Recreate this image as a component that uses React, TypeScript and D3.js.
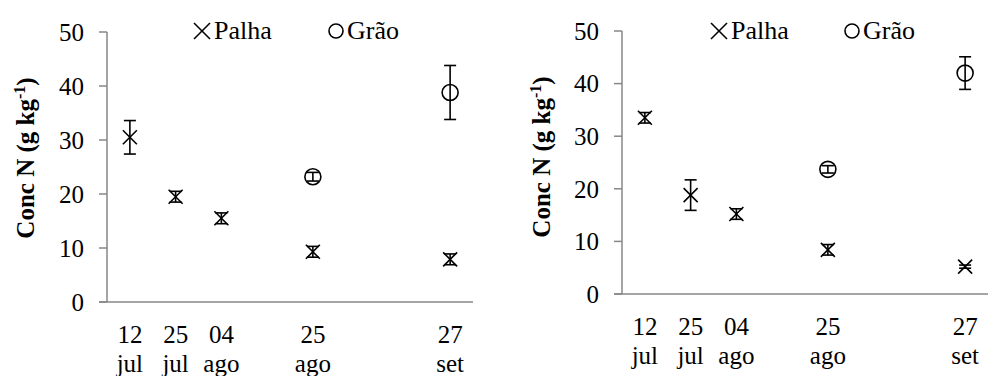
import React from 'react';
import * as d3 from 'd3';

const datePos = [0.5, 1.5, 2.5, 4.5, 7.5];
const dayLabels = ['12', '25', '04', '25', '27'];
const monthLabels = ['jul', 'jul', 'ago', 'ago', 'set'];
const yTicks = [0, 10, 20, 30, 40, 50];

const palhaA = [30.5, 19.5, 15.5, 9.3, 7.9];
const palhaAErr = [3.1, 1.0, 1.0, 1.0, 1.0];
const graoA: (number | null)[] = [null, null, null, 23.2, 38.8];
const graoAErr = [0, 0, 0, 0.8, 5.0];

const palhaB = [33.5, 18.8, 15.2, 8.4, 5.2];
const palhaBErr = [1.0, 2.9, 1.0, 1.0, 0.3];
const graoB: (number | null)[] = [null, null, null, 23.7, 42.0];
const graoBErr = [0, 0, 0, 0.7, 3.1];

const FONT = '"Liberation Serif", "Times New Roman", serif';
const AXIS = '#878787';

type PanelProps = {
  axisX: number;
  yTop: number;
  yBottom: number;
  titleX: number;
  titleY: number;
  legX: number;
  legCircleX: number;
  palha: number[];
  palhaErr: number[];
  grao: (number | null)[];
  graoErr: number[];
};

function Panel(p: PanelProps) {
  const x = d3.scaleLinear().domain([0, 8]).range([p.axisX, p.axisX + 366]);
  const y = d3.scaleLinear().domain([0, 50]).range([p.yBottom, p.yTop]);
  const xs = 7;
  const cap = 6;
  const sw = 1.6;

  const errBar = (cx: number, v: number, e: number, key: string) => (
    <g key={key} stroke="#000" strokeWidth={sw}>
      <line x1={cx} x2={cx} y1={y(v + e)} y2={y(v - e)} />
      <line x1={cx - cap} x2={cx + cap} y1={y(v + e)} y2={y(v + e)} />
      <line x1={cx - cap} x2={cx + cap} y1={y(v - e)} y2={y(v - e)} />
    </g>
  );
  const cross = (cx: number, cy: number, s: number, key: string) => (
    <g key={key} stroke="#000" strokeWidth={sw}>
      <line x1={cx - s} x2={cx + s} y1={cy - s} y2={cy + s} />
      <line x1={cx - s} x2={cx + s} y1={cy + s} y2={cy - s} />
    </g>
  );

  return (
    <g fontFamily={FONT}>
      {/* axes */}
      <line x1={p.axisX} x2={p.axisX} y1={y(50)} y2={y(0)} stroke={AXIS} strokeWidth={1.5} />
      <line x1={p.axisX - 8} x2={x(8)} y1={y(0)} y2={y(0)} stroke={AXIS} strokeWidth={1.5} />
      {yTicks.map((t) => (
        <g key={'yt' + t}>
          <line x1={p.axisX - 8} x2={p.axisX} y1={y(t)} y2={y(t)} stroke={AXIS} strokeWidth={1.5} />
          <text x={p.axisX - 23} y={y(t)} dy="0.35em" textAnchor="end" fontSize={25} fill="#000">
            {t}
          </text>
        </g>
      ))}
      {datePos.map((d, i) => (
        <g key={'xl' + i}>
          <text x={x(d)} y={y(0) + 41} textAnchor="middle" fontSize={25} fill="#000">
            {dayLabels[i]}
          </text>
          <text x={x(d)} y={y(0) + 70} textAnchor="middle" fontSize={25} fill="#000">
            {monthLabels[i]}
          </text>
        </g>
      ))}
      {/* y title */}
      <text
        transform={`translate(${p.titleX},${p.titleY}) rotate(-90)`}
        textAnchor="middle"
        dy="0.35em"
        fontSize={25}
        fontWeight="bold"
        fill="#000"
      >
        Conc N (g kg
        <tspan dy={-9} fontSize={16}>-1</tspan>
        <tspan dy={9}>)</tspan>
      </text>
      {/* legend */}
      {cross(p.legX, 31, 8, 'lx')}
      <text x={p.legX + 12} y={39} fontSize={26} fill="#000">Palha</text>
      <circle cx={p.legCircleX} cy={31} r={7} fill="none" stroke="#000" strokeWidth={sw} />
      <text x={p.legCircleX + 11} y={39} fontSize={26} fill="#000">Grão</text>
      {/* data */}
      {datePos.map((d, i) => (
        <g key={'p' + i}>
          {errBar(x(d), p.palha[i], p.palhaErr[i], 'pe' + i)}
          {cross(x(d), y(p.palha[i]), xs, 'pc' + i)}
        </g>
      ))}
      {datePos.map((d, i) =>
        p.grao[i] == null ? null : (
          <g key={'g' + i}>
            {errBar(x(d), p.grao[i] as number, p.graoErr[i], 'ge' + i)}
            <circle cx={x(d)} cy={y(p.grao[i] as number)} r={8} fill="none" stroke="#000" strokeWidth={sw} />
          </g>
        )
      )}
    </g>
  );
}

export default function App() {
  return (
    <svg
      width={988}
      height={376}
      style={{ position: 'absolute', left: 0, top: 0, background: '#fff' }}
    >
      <rect width={988} height={376} fill="#fff" />
      <Panel
        axisX={107}
        yTop={32}
        yBottom={302}
        titleX={25}
        titleY={158}
        legX={202}
        legCircleX={336}
        palha={palhaA}
        palhaErr={palhaAErr}
        grao={graoA}
        graoErr={graoAErr}
      />
      <Panel
        axisX={622}
        yTop={31}
        yBottom={294}
        titleX={541}
        titleY={157}
        legX={719}
        legCircleX={852}
        palha={palhaB}
        palhaErr={palhaBErr}
        grao={graoB}
        graoErr={graoBErr}
      />
    </svg>
  );
}
